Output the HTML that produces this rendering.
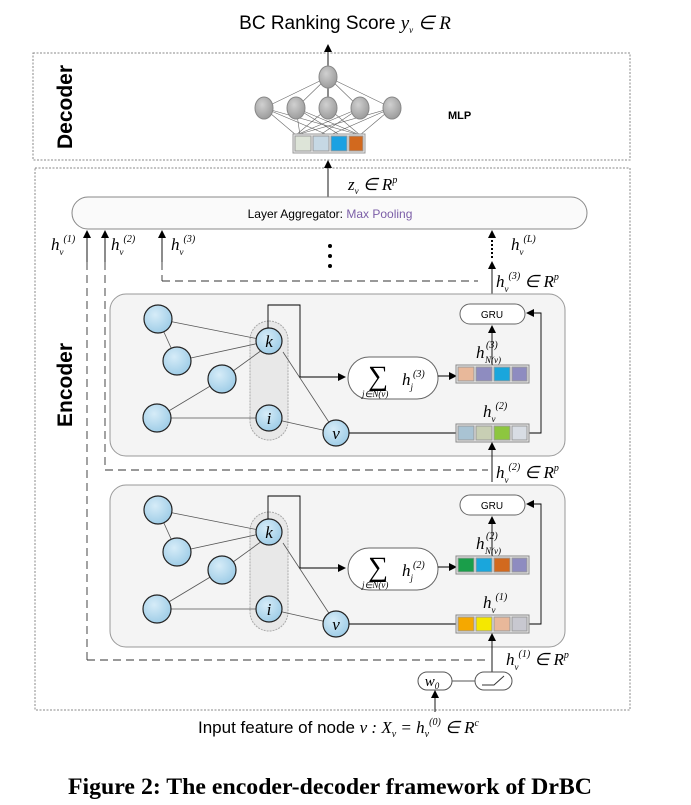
<!DOCTYPE html>
<html><head><meta charset="utf-8"><style>
html,body{margin:0;padding:0;background:#fff;}
svg{display:block;}
.t{font-family:"Liberation Sans",sans-serif;}
.m{font-family:"Liberation Serif",serif;font-style:italic;}
</style></head><body>
<svg width="691" height="805" viewBox="0 0 691 805" xmlns="http://www.w3.org/2000/svg">
<defs>
<marker id="ar" markerWidth="8" markerHeight="8" refX="7" refY="4" orient="auto" markerUnits="userSpaceOnUse">
<path d="M0,0 L8,4 L0,8 z" fill="#000"/></marker>
<radialGradient id="nb" cx="40%" cy="35%" r="70%"><stop offset="0" stop-color="#d6ecf8"/><stop offset="1" stop-color="#9ccbe6"/></radialGradient>
<radialGradient id="ng" cx="40%" cy="35%" r="70%"><stop offset="0" stop-color="#d0d0d0"/><stop offset="1" stop-color="#999"/></radialGradient>
<g id="blk">
<rect x="110" y="294" width="455" height="162" rx="16" fill="#f4f4f4" stroke="#999"/>
<rect x="250" y="321" width="38" height="119" rx="19" fill="#e8e8e8" stroke="#aaa" stroke-dasharray="2,1"/>
<g stroke="#555" stroke-width="0.8" fill="none">
<line x1="158" y1="319" x2="269" y2="341"/><line x1="158" y1="319" x2="177" y2="361"/>
<line x1="177" y1="361" x2="269" y2="341"/><line x1="222" y1="379" x2="262" y2="350"/>
<line x1="222" y1="379" x2="157" y2="418"/><line x1="157" y1="418" x2="269" y2="418"/>
<line x1="269" y1="418" x2="336" y2="433"/><line x1="283" y1="352" x2="336" y2="433"/>
</g>
<g fill="url(#nb)" stroke="#222" stroke-width="1.2">
<circle cx="158" cy="319" r="14"/><circle cx="177" cy="361" r="14"/><circle cx="222" cy="379" r="14"/><circle cx="157" cy="418" r="14"/>
<circle cx="269" cy="341" r="13"/><circle cx="269" cy="418" r="13"/><circle cx="336" cy="433" r="13"/>
</g>
<text x="269" y="347" class="m" font-size="17" text-anchor="middle">k</text>
<text x="269" y="424" class="m" font-size="17" text-anchor="middle">i</text>
<text x="336" y="439" class="m" font-size="17" text-anchor="middle">v</text>
<path d="M268,328 V305 H300 V377 H345" fill="none" stroke="#000" stroke-width="0.9" marker-end="url(#ar)"/>
<rect x="348" y="357" width="90" height="42" rx="21" fill="#fff" stroke="#666"/>
<text x="378" y="385" font-family="Liberation Serif,serif" font-size="28" text-anchor="middle">∑</text>
<text x="362" y="397" class="m" font-size="9">j∈N(v)</text>
<line x1="438" y1="376" x2="456" y2="376" stroke="#000" marker-end="url(#ar)"/>
<line x1="349" y1="433" x2="457" y2="433" stroke="#000" stroke-width="0.9"/>
<path d="M529,433 H541 V313 H527" fill="none" stroke="#000" stroke-width="0.9" marker-end="url(#ar)"/>
<rect x="460" y="304" width="65" height="20" rx="10" fill="#fff" stroke="#666"/>
<text x="492" y="318" class="t" font-size="10" text-anchor="middle">GRU</text>
<line x1="492" y1="365" x2="492" y2="326" stroke="#000" stroke-width="0.9" marker-end="url(#ar)"/>
</g>
</defs>

<text x="345" y="29" class="t" font-size="19" text-anchor="middle">BC Ranking Score <tspan class="m">y<tspan font-size="9" dy="4">v</tspan><tspan dy="-4"> ∈ R</tspan></tspan></text>
<line x1="328" y1="97" x2="328" y2="45" stroke="#000" stroke-width="0.9" marker-end="url(#ar)"/>

<rect x="33" y="53" width="597" height="107" fill="none" stroke="#888" stroke-dasharray="2,1.5"/>
<text transform="translate(72,107) rotate(-90)" class="t" font-size="21" font-weight="bold" text-anchor="middle">Decoder</text>
<g stroke="#666" stroke-width="0.6">
<line x1="328" y1="77" x2="264" y2="108"/><line x1="328" y1="77" x2="296" y2="108"/><line x1="328" y1="77" x2="360" y2="108"/><line x1="328" y1="77" x2="392" y2="108"/>
<line x1="264" y1="108" x2="296" y2="135"/><line x1="264" y1="108" x2="328" y2="135"/><line x1="264" y1="108" x2="360" y2="135"/><line x1="296" y1="108" x2="300" y2="135"/><line x1="296" y1="108" x2="340" y2="135"/><line x1="296" y1="108" x2="360" y2="135"/><line x1="328" y1="108" x2="296" y2="135"/><line x1="328" y1="108" x2="360" y2="135"/><line x1="360" y1="108" x2="296" y2="135"/><line x1="360" y1="108" x2="320" y2="135"/><line x1="392" y1="108" x2="296" y2="135"/><line x1="392" y1="108" x2="330" y2="135"/><line x1="392" y1="108" x2="360" y2="135"/>
</g>
<g fill="url(#ng)" stroke="#888">
<ellipse cx="328" cy="77" rx="9" ry="11"/>
<ellipse cx="264" cy="108" rx="9" ry="11"/><ellipse cx="296" cy="108" rx="9" ry="11"/><ellipse cx="328" cy="108" rx="9" ry="11"/><ellipse cx="360" cy="108" rx="9" ry="11"/><ellipse cx="392" cy="108" rx="9" ry="11"/>
</g>
<rect x="293" y="134" width="72" height="19" fill="#eee" stroke="#999"/>
<rect x="295" y="136" width="16" height="15" fill="#dde4d8" stroke="#999"/>
<rect x="313" y="136" width="16" height="15" fill="#c6d8e4" stroke="#999"/>
<rect x="331" y="136" width="16" height="15" fill="#1ba1e2" stroke="#999"/>
<rect x="349" y="136" width="14" height="15" fill="#d2691e" stroke="#999"/>
<text x="448" y="119" class="t" font-size="11" font-weight="bold">MLP</text>

<rect x="35" y="168" width="595" height="542" fill="none" stroke="#888" stroke-dasharray="2,1.5"/>
<text transform="translate(72,385) rotate(-90)" class="t" font-size="21" font-weight="bold" text-anchor="middle">Encoder</text>
<line x1="328" y1="198" x2="328" y2="161" stroke="#000" stroke-width="0.9" marker-end="url(#ar)"/>
<text x="348" y="190" class="m" font-size="17">z<tspan font-size="9" dy="4">v</tspan><tspan dy="-4"> ∈ R</tspan><tspan font-size="10" dy="-7">p</tspan></text>
<rect x="72" y="197" width="515" height="32" rx="16" fill="#fafafa" stroke="#888"/>
<text x="330" y="218" class="t" font-size="12" text-anchor="middle">Layer Aggregator: <tspan fill="#7b5ea7">Max Pooling</tspan></text>

<g stroke="#000" stroke-width="0.9" fill="none">
<line x1="87" y1="262" x2="87" y2="231" marker-end="url(#ar)"/>
<line x1="105" y1="262" x2="105" y2="231" marker-end="url(#ar)"/>
<line x1="162" y1="262" x2="162" y2="231" marker-end="url(#ar)"/>
<line x1="492" y1="258" x2="492" y2="231" stroke-dasharray="2,2" stroke-width="2" marker-end="url(#ar)"/>
</g>
<g stroke="#333" stroke-width="0.9" fill="none" stroke-dasharray="8,5">
<line x1="87" y1="262" x2="87" y2="660"/>
<line x1="105" y1="262" x2="105" y2="470"/>
<line x1="162" y1="262" x2="162" y2="281"/>
<line x1="162" y1="281" x2="478" y2="281"/>
<line x1="105" y1="470" x2="488" y2="470"/>
<line x1="87" y1="660" x2="488" y2="660"/>
</g>
<g fill="#000"><circle cx="330" cy="246" r="2"/><circle cx="330" cy="256" r="2"/><circle cx="330" cy="266" r="2"/></g>
<g class="m" font-size="17">
<text x="51" y="250">h<tspan font-size="9" dy="5">v</tspan><tspan font-size="10" dy="-13">(1)</tspan></text>
<text x="111" y="250">h<tspan font-size="9" dy="5">v</tspan><tspan font-size="10" dy="-13">(2)</tspan></text>
<text x="171" y="250">h<tspan font-size="9" dy="5">v</tspan><tspan font-size="10" dy="-13">(3)</tspan></text>
<text x="511" y="250">h<tspan font-size="9" dy="5">v</tspan><tspan font-size="10" dy="-13">(L)</tspan></text>
<text x="496" y="287">h<tspan font-size="9" dy="5">v</tspan><tspan font-size="10" dy="-13">(3)</tspan><tspan dy="8"> ∈ R</tspan><tspan font-size="10" dy="-7">p</tspan></text>
<text x="496" y="478">h<tspan font-size="9" dy="5">v</tspan><tspan font-size="10" dy="-13">(2)</tspan><tspan dy="8"> ∈ R</tspan><tspan font-size="10" dy="-7">p</tspan></text>
<text x="506" y="665">h<tspan font-size="9" dy="5">v</tspan><tspan font-size="10" dy="-13">(1)</tspan><tspan dy="8"> ∈ R</tspan><tspan font-size="10" dy="-7">p</tspan></text>
</g>
<line x1="492" y1="303" x2="492" y2="262" stroke="#000" stroke-width="0.9" marker-end="url(#ar)"/>

<use href="#blk"/>
<g class="m" font-size="17">
<text x="402" y="385">h<tspan font-size="9" dy="5">j</tspan><tspan font-size="10" dy="-13">(3)</tspan></text>
<text x="476" y="358">h</text><text x="486" y="348" font-size="10">(3)</text><text x="485" y="363" font-size="9">N(v)</text>
<text x="483" y="417">h<tspan font-size="9" dy="5">v</tspan><tspan font-size="10" dy="-13">(2)</tspan></text>
</g>
<rect x="456" y="365" width="73" height="18" fill="#eee" stroke="#888"/>
<rect x="458" y="367" width="16" height="14" fill="#e8b89a" stroke="#999"/><rect x="476" y="367" width="16" height="14" fill="#8e8cc0" stroke="#999"/><rect x="494" y="367" width="16" height="14" fill="#1aa6dc" stroke="#999"/><rect x="512" y="367" width="15" height="14" fill="#8e8cc0" stroke="#999"/>
<rect x="456" y="424" width="73" height="18" fill="#eee" stroke="#888"/>
<rect x="458" y="426" width="16" height="14" fill="#a9c3d3" stroke="#999"/><rect x="476" y="426" width="16" height="14" fill="#c8cfb4" stroke="#999"/><rect x="494" y="426" width="16" height="14" fill="#8dc63f" stroke="#999"/><rect x="512" y="426" width="15" height="14" fill="#d8dde4" stroke="#999"/>
<line x1="492" y1="482" x2="492" y2="443" stroke="#000" stroke-width="0.9" marker-end="url(#ar)"/>

<use href="#blk" transform="translate(0,191)"/>
<g class="m" font-size="17">
<text x="402" y="576">h<tspan font-size="9" dy="5">j</tspan><tspan font-size="10" dy="-13">(2)</tspan></text>
<text x="476" y="549">h</text><text x="486" y="539" font-size="10">(2)</text><text x="485" y="554" font-size="9">N(v)</text>
<text x="483" y="608">h<tspan font-size="9" dy="5">v</tspan><tspan font-size="10" dy="-13">(1)</tspan></text>
</g>
<rect x="456" y="556" width="73" height="18" fill="#eee" stroke="#888"/>
<rect x="458" y="558" width="16" height="14" fill="#1a9e4a" stroke="#999"/><rect x="476" y="558" width="16" height="14" fill="#1aa6dc" stroke="#999"/><rect x="494" y="558" width="16" height="14" fill="#d2691e" stroke="#999"/><rect x="512" y="558" width="15" height="14" fill="#8e8cc0" stroke="#999"/>
<rect x="456" y="615" width="73" height="18" fill="#eee" stroke="#888"/>
<rect x="458" y="617" width="16" height="14" fill="#f5a800" stroke="#999"/><rect x="476" y="617" width="16" height="14" fill="#f5e800" stroke="#999"/><rect x="494" y="617" width="16" height="14" fill="#e8b89a" stroke="#999"/><rect x="512" y="617" width="15" height="14" fill="#c8c8d0" stroke="#999"/>
<line x1="492" y1="673" x2="492" y2="634" stroke="#000" stroke-width="0.9" marker-end="url(#ar)"/>

<rect x="418" y="672" width="34" height="18" rx="9" fill="#fff" stroke="#555"/>
<text x="432" y="686" class="m" font-size="15" text-anchor="middle">w<tspan font-size="9" dy="3">0</tspan></text>
<line x1="452" y1="681" x2="475" y2="681" stroke="#555"/>
<rect x="475" y="672" width="37" height="18" rx="9" fill="#fff" stroke="#555"/>
<path d="M482,685 H494 L504,676" fill="none" stroke="#333"/>
<line x1="435" y1="712" x2="435" y2="691" stroke="#000" stroke-width="0.9" marker-end="url(#ar)"/>

<text x="198" y="733" class="t" font-size="17">Input feature of node <tspan class="m">v :  X<tspan font-size="10" dy="4">v</tspan><tspan dy="-4"> = h</tspan><tspan font-size="10" dy="4">v</tspan><tspan font-size="10" dy="-12">(0)</tspan><tspan dy="8"> ∈ R</tspan><tspan font-size="10" dy="-7">c</tspan></tspan></text>
<text x="68" y="794" font-family="Liberation Serif,serif" font-size="23" font-weight="bold" textLength="524" lengthAdjust="spacingAndGlyphs">Figure 2: The encoder-decoder framework of DrBC</text>
</svg>
</body></html>
